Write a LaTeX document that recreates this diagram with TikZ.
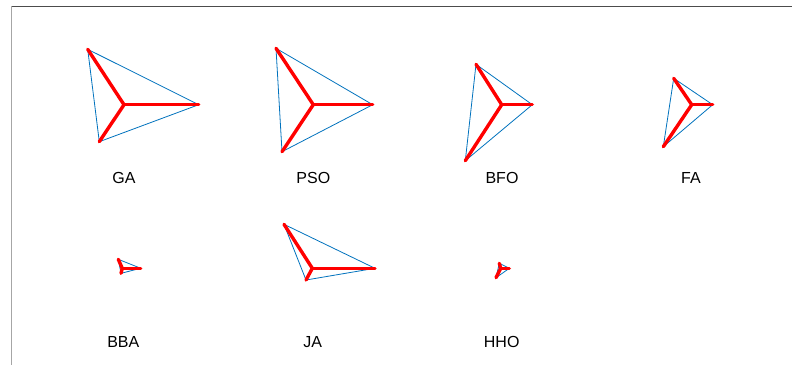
\documentclass[tikz,border=0pt]{standalone}
\usepackage{fontspec}
\setmainfont{Liberation Sans}
\definecolor{mblue}{RGB}{0,114,189}

\begin{document}
\begin{tikzpicture}[x=1pt,y=-1pt]
    \tikzstyle{edge}=[draw=mblue,line width=0.8pt,line join=round]
    \tikzstyle{spoke}=[draw=red,line width=3.4pt,line cap=round]
    \tikzstyle{caption}=[font=\fontsize{16}{19}\selectfont,inner sep=0pt]
    \useasboundingbox (0,0) rectangle (792,365);

    % frame
    \draw[black!70,line width=0.9pt] (11,6) -- (792,6);
    \draw[black!35,line width=0.9pt] (11,6) -- (11,365);

    \foreach \name/\cx/\cy/\lx/\ly/\ax/\ay/\bx/\by/\dx/\dy in {
        GA/124/104.7/124/177.7/87.7/49.3/198.7/104.7/99.3/141.7,
        PSO/313.3/104.7/313.3/177.7/276/48.3/372.7/104.7/282/151.7,
        BFO/501.7/104.7/502/177.7/476/64.3/532.3/104.7/465.3/160.7,
        FA/691.7/104.7/691/177.7/673.7/78.3/712.7/104.7/663.3/146.7,
        BBA/122.3/268.3/123.3/342/118.3/259.3/140.7/268.3/121/273.3,
        JA/312.3/268.3/312.7/342/284/224.3/375/268.3/306/280,
        HHO/500.7/268.3/501.7/342/499.3/263.3/509.3/268.3/496/277.7}
    {
        \coordinate (\name-c) at (\cx,\cy);
        \coordinate (\name-1) at (\ax,\ay);
        \coordinate (\name-2) at (\bx,\by);
        \coordinate (\name-3) at (\dx,\dy);
        \draw[edge] (\name-1) -- (\name-2) -- (\name-3) -- cycle;
        \foreach \v in {1,2,3}
            \draw[spoke] (\name-c) -- (\name-\v);
        \node[caption] (\name-lab) at (\lx,\ly) {\name};
    }
\end{tikzpicture}
\end{document}
